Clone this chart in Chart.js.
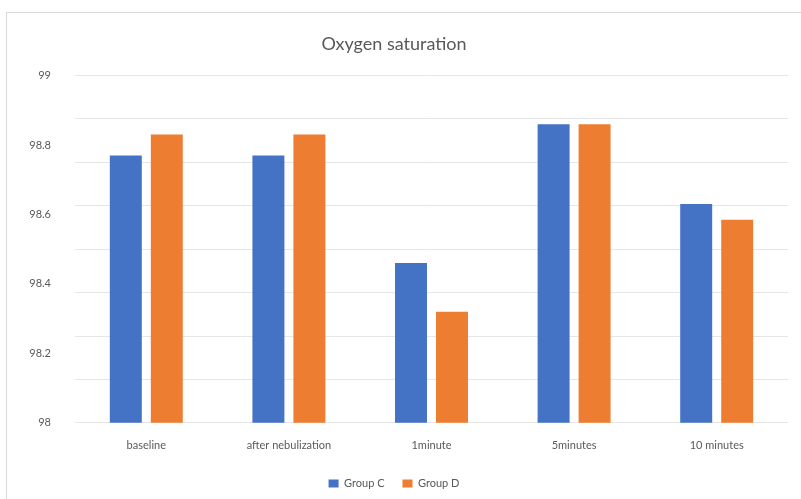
<!DOCTYPE html>
<html>
<head>
<meta charset="utf-8">
<script src="https://cdn.jsdelivr.net/npm/chart.js@4"></script>
<style>
  html, body { margin: 0; padding: 0; background: #fff; overflow: hidden; }
  #wrap { position: absolute; left: 0; top: 0; width: 801px; height: 499px; }
  #frame { position: absolute; left: 6px; top: 12px; width: 820px; height: 520px; border: 1px solid #d9d9d9; }
  canvas { position: absolute; left: 0; top: 0; }
</style>
</head>
<body>
<div id="wrap">
  <div id="frame"></div>
  <canvas id="chart" width="801" height="499"></canvas>
</div>
<script>
// Oxygen saturation by time point, two groups
const categories = ['baseline', 'after nebulization', '1minute', '5minutes', '10 minutes'];
const groupC = [98.77, 98.77, 98.46, 98.86, 98.63];
const groupD = [98.83, 98.83, 98.32, 98.86, 98.585];

const textGray = '#595959';

new Chart(document.getElementById('chart'), {
  type: 'bar',
  data: {
    labels: categories,
    datasets: [
      { label: 'Group C', data: groupC, backgroundColor: '#4472C4', yAxisID: 'y' },
      { label: 'Group D', data: groupD, backgroundColor: '#ED7D31', yAxisID: 'y' }
    ]
  },
  options: {
    responsive: false,
    animation: false,
    categoryPercentage: 0.575,
    barPercentage: 0.78,
    layout: { padding: { top: 33, right: 13, bottom: 0, left: 0 } },
    scales: {
      x: {
        grid: { display: false },
        border: { display: false },
        ticks: { color: textGray, font: { family: 'Lato', size: 11 }, padding: 8, maxRotation: 0 }
      },
      y: {
        position: 'left',
        min: 98,
        max: 99,
        grid: { display: false },
        border: { display: false },
        ticks: {
          stepSize: 0.2,
          color: textGray,
          font: { family: 'Lato', size: 11 },
          padding: 16,
          callback: (v) => +v.toFixed(1)
        },
        afterFit: (s) => { s.width = 75; }
      },
      yGrid: {
        position: 'left',
        min: 98,
        max: 99,
        grid: { color: '#e6e6e6', drawTicks: false },
        border: { display: false },
        ticks: { display: false, stepSize: 0.125 },
        afterFit: (s) => { s.width = 0; }
      }
    },
    plugins: {
      title: {
        display: true,
        text: 'Oxygen saturation',
        color: textGray,
        font: { family: 'Lato', size: 18, weight: 'normal' },
        padding: { top: 0, bottom: 21 }
      },
      legend: {
        position: 'bottom',
        labels: {
          color: textGray,
          font: { family: 'Lato', size: 11 },
          boxWidth: 10,
          boxHeight: 8,
          padding: 18
        }
      },
      tooltip: { enabled: false }
    }
  }
});
</script>
</body>
</html>
